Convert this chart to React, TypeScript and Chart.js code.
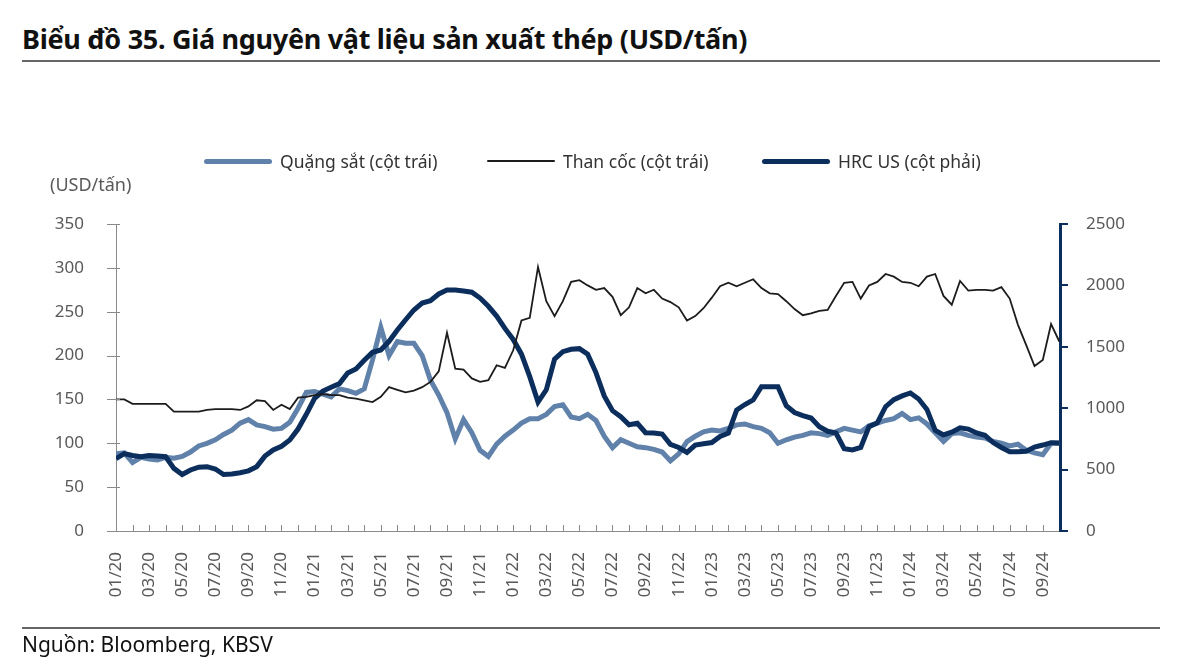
import React, { useEffect, useRef } from "react";
import { Chart, registerables } from "chart.js";

Chart.register(...registerables);

// time axis: half-month steps starting 01/2020 (0 = Jan 2020)
const months: number[] = Array.from({ length: 115 }, (_, i) => i / 2);

const xTickLabels = [
  "01/20", "03/20", "05/20", "07/20", "09/20", "11/20",
  "01/21", "03/21", "05/21", "07/21", "09/21", "11/21",
  "01/22", "03/22", "05/22", "07/22", "09/22", "11/22",
  "01/23", "03/23", "05/23", "07/23", "09/23", "11/23",
  "01/24", "03/24", "05/24", "07/24", "09/24",
];

// Quặng sắt (USD/tấn, left axis)
const ironOre = [
  88, 89, 78, 84, 82, 81, 84, 83, 85, 90,
  97, 100, 104, 110, 115, 123, 127, 121, 119, 116,
  117, 124, 140, 158, 159, 156, 153, 162, 160, 157,
  162, 195, 232, 200, 216, 214, 214, 200, 172, 155,
  135, 105, 127, 112, 92, 85, 99, 108, 115, 123,
  128, 128, 133, 142, 144, 130, 128, 133, 126, 108,
  95, 104, 100, 96, 95, 93, 90, 80, 88, 102,
  108, 113, 115, 114, 117, 121, 122, 119, 117, 112,
  100, 104, 107, 109, 112, 111, 109, 113, 117, 115,
  113, 120, 123, 126, 128, 134, 127, 129, 122, 112,
  102, 111, 112, 109, 107, 106, 102, 100, 97, 99,
  92, 89, 87, 100, 100,
];

// Than cốc (USD/tấn, left axis)
const cokingCoal = [
  150, 150, 145, 145, 145, 145, 145, 136, 136, 136,
  136, 138, 139, 139, 139, 138, 142, 149, 148, 138,
  144, 139, 152, 153, 155, 156, 155, 155, 152, 151,
  149, 147, 153, 164, 161, 158, 160, 164, 170, 182,
  226, 185, 184, 174, 170, 172, 189, 186, 206, 240,
  243, 301, 262, 245, 262, 284, 286, 280, 275, 277,
  267, 246, 255, 277, 271, 275, 265, 261, 255, 240,
  245, 254, 266, 279, 283, 279, 283, 287, 277, 271,
  270, 262, 253, 246, 248, 251, 252, 268, 283, 284,
  265, 280, 284, 293, 290, 284, 283, 279, 290, 293,
  268, 258, 285, 274, 275, 275, 274, 278, 265, 235,
  212, 188, 195, 236, 216,
];

// HRC US (USD/tấn, right axis)
const hrcUS = [
  590, 630, 615, 605, 615, 610, 605, 510, 460, 497,
  520, 524, 505, 460, 465, 475, 490, 524, 610, 660,
  690, 741, 830, 950, 1080, 1140, 1170, 1200, 1286, 1320,
  1390, 1455, 1474, 1545, 1637, 1720, 1800, 1856, 1875, 1930,
  1962, 1962, 1955, 1945, 1897, 1830, 1750, 1650, 1560, 1440,
  1257, 1050, 1150, 1400, 1460, 1480, 1485, 1440, 1290, 1100,
  980, 931, 865, 877, 800, 798, 790, 705, 680, 640,
  700, 710, 720, 770, 798, 985, 1030, 1067, 1175, 1175,
  1175, 1020, 965, 940, 920, 849, 812, 798, 670, 660,
  680, 850, 880, 1012, 1070, 1100, 1124, 1075, 990, 820,
  782, 805, 840, 830, 798, 780, 720, 680, 646, 646,
  650, 683, 700, 719, 716,
];

const IRON_COLOR = "#6081aa";
const COAL_COLOR = "#1c1c1c";
const HRC_COLOR = "#0b2e5c";
const TICK_COLOR = "#595959";
const FONT = "'Noto Sans', sans-serif";

const tickPlugin = {
  id: "insideTicks",
  afterDraw(chart: any) {
    const { ctx, chartArea } = chart;
    const x = chart.scales.x;
    const y = chart.scales.y;
    const y1 = chart.scales.y1;
    ctx.save();
    ctx.strokeStyle = "#8a8a8a";
    ctx.lineWidth = 1;
    ctx.beginPath();
    x.ticks.forEach((t: any) => {
      if (!Number.isInteger(t.value)) return;
      const px = Math.round(x.getPixelForValue(t.value)) + 0.5;
      ctx.moveTo(px, chartArea.bottom);
      ctx.lineTo(px, chartArea.bottom - 6);
    });
    y.ticks.forEach((t: any) => {
      const py = Math.round(y.getPixelForValue(t.value)) + 0.5;
      ctx.moveTo(chartArea.left - 9, py);
      ctx.lineTo(chartArea.left + 4, py);
    });
    ctx.stroke();
    ctx.strokeStyle = HRC_COLOR;
    ctx.lineWidth = 2;
    ctx.beginPath();
    y1.ticks.forEach((t: any) => {
      const py = Math.round(y1.getPixelForValue(t.value));
      ctx.moveTo(chartArea.right, py);
      ctx.lineTo(chartArea.right + 8, py);
    });
    ctx.stroke();
    ctx.restore();
  },
};

function LegendItem({ color, width, label, left }: { color: string; width: number; label: string; left: number }) {
  return (
    <div style={{ position: "absolute", left, top: 149, height: 24, display: "flex", alignItems: "center", whiteSpace: "nowrap" }}>
      <div style={{ width: 68, height: width, background: color, borderRadius: width / 2, marginRight: 8 }} />
      <span style={{ fontFamily: FONT, fontSize: 17.5, color: "#333" }}>{label}</span>
    </div>
  );
}

export default function App() {
  const canvasRef = useRef<HTMLCanvasElement | null>(null);

  useEffect(() => {
    if (!canvasRef.current) return;
    const mk = (arr: number[]) => months.map((m, i) => ({ x: m, y: arr[i] }));
    const chart = new Chart(canvasRef.current, {
      type: "line",
      data: {
        datasets: [
          {
            label: "Than cốc (cột trái)",
            data: mk(cokingCoal),
            borderColor: COAL_COLOR,
            borderWidth: 1.8,
            pointRadius: 0,
            yAxisID: "y",
            order: 0,
          },
          {
            label: "HRC US (cột phải)",
            data: mk(hrcUS),
            borderColor: HRC_COLOR,
            borderWidth: 5,
            pointRadius: 0,
            yAxisID: "y1",
            order: 1,
          },
          {
            label: "Quặng sắt (cột trái)",
            data: mk(ironOre),
            borderColor: IRON_COLOR,
            borderWidth: 5,
            pointRadius: 0,
            yAxisID: "y",
            order: 2,
          },
        ],
      },
      options: {
        animation: false,
        responsive: false,
        layout: { autoPadding: false, padding: { top: 224, left: 0, right: 40, bottom: 37 } },
        plugins: { legend: { display: false }, tooltip: { enabled: false }, title: { display: false } },
        scales: {
          x: {
            type: "linear",
            min: 0,
            max: 57.04,
            afterFit: (s: any) => { s.height = 100; },
            grid: { display: false },
            border: { display: true, color: "#8a8a8a", width: 1 },
            ticks: {
              stepSize: 1,
              autoSkip: false,
              minRotation: 90,
              maxRotation: 90,
              padding: 13,
              color: TICK_COLOR,
              font: { family: FONT, size: 17 },
              callback: (v: any) => (Number.isInteger(v) && v % 2 === 0 ? xTickLabels[v / 2] ?? "" : ""),
            },
          },
          y: {
            position: "left",
            min: 0,
            max: 350,
            afterFit: (s: any) => { s.width = 116; },
            grid: { display: false },
            border: { display: true, color: "#8a8a8a", width: 1 },
            ticks: {
              stepSize: 50,
              padding: 24,
              color: TICK_COLOR,
              font: { family: FONT, size: 17 },
              callback: (v: any) => String(v),
            },
          },
          y1: {
            position: "right",
            min: 0,
            max: 2500,
            afterFit: (s: any) => { s.width = 100; },
            grid: { display: false },
            border: { display: true, color: HRC_COLOR, width: 3 },
            ticks: {
              stepSize: 500,
              padding: 18,
              color: TICK_COLOR,
              font: { family: FONT, size: 17 },
              callback: (v: any) => String(v),
            },
          },
        },
      },
      plugins: [tickPlugin],
    } as any);
    return () => chart.destroy();
  }, []);

  return (
    <div style={{ position: "absolute", left: 0, top: 0, width: 1200, height: 668, background: "#fff", overflow: "hidden" }}>
      <div style={{ position: "absolute", left: 22, top: 20, fontFamily: FONT, fontWeight: 700, fontSize: 27, color: "#111", whiteSpace: "nowrap", letterSpacing: -0.3 }}>
        Biểu đồ 35. Giá nguyên vật liệu sản xuất thép (USD/tấn)
      </div>
      <div style={{ position: "absolute", left: 22, top: 60, width: 1138, height: 2, background: "#666" }} />
      <canvas ref={canvasRef} width={1200} height={668} style={{ position: "absolute", left: 0, top: 0, width: 1200, height: 668 }} />
      <LegendItem color={IRON_COLOR} width={5} label="Quặng sắt (cột trái)" left={204} />
      <LegendItem color={COAL_COLOR} width={2} label="Than cốc (cột trái)" left={487} />
      <LegendItem color={HRC_COLOR} width={5} label="HRC US (cột phải)" left={762} />
      <div style={{ position: "absolute", left: 50, top: 172, fontFamily: FONT, fontSize: 18, color: TICK_COLOR, whiteSpace: "nowrap" }}>(USD/tấn)</div>
      <div style={{ position: "absolute", left: 22, top: 627, width: 1138, height: 2, background: "#666" }} />
      <div style={{ position: "absolute", left: 22, top: 630, fontFamily: FONT, fontSize: 21, color: "#111", whiteSpace: "nowrap" }}>Nguồn: Bloomberg, KBSV</div>
    </div>
  );
}
